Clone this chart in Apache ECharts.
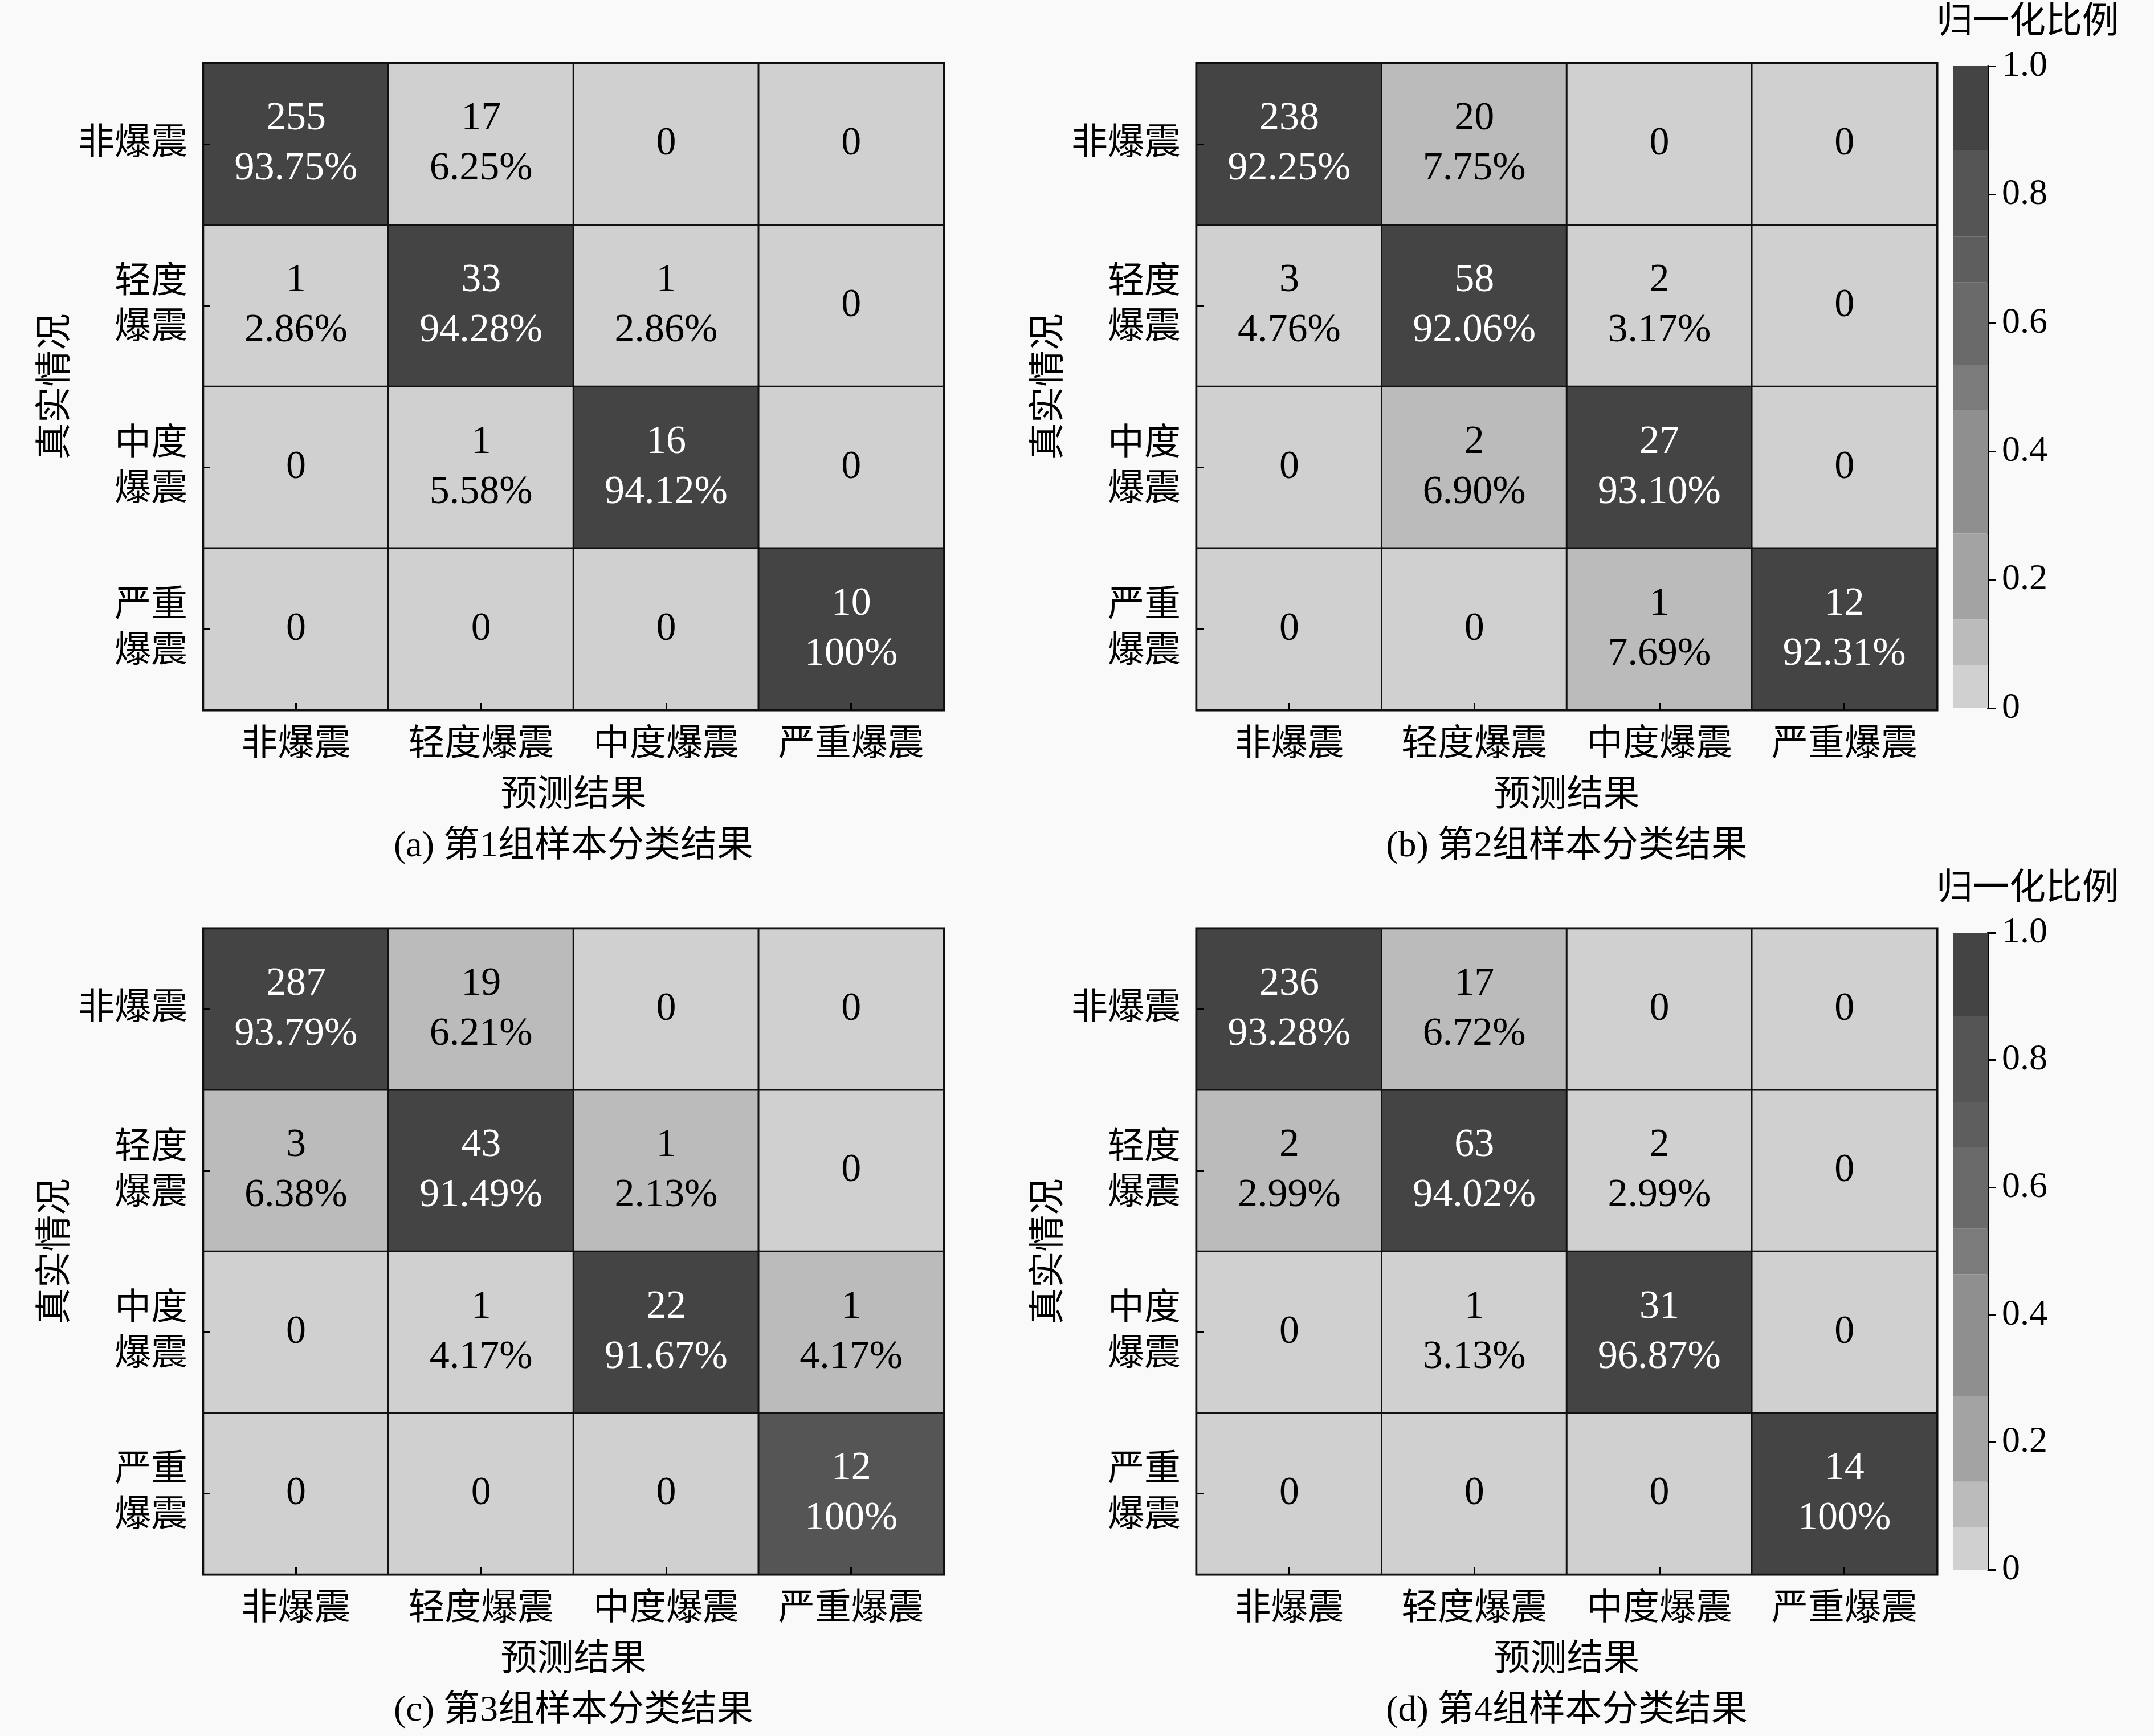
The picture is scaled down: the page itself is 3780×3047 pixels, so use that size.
<!DOCTYPE html>
<html>
<head>
<meta charset="utf-8">
<script src="https://cdn.jsdelivr.net/npm/echarts@6/dist/echarts.min.js"></script>
<style>
html,body{margin:0;padding:0;background:#f9f9f9;}
#main{width:3780px;height:3047px;}
</style>
</head>
<body>
<div id="main"></div>
<script>
// ---------- data ----------
const categories = ['非爆震', '轻度爆震', '中度爆震', '严重爆震'];
const xAxisName = '预测结果';
const yAxisName = '真实情况';
const colorbarTitle = '归一化比例';
const captions = ['(a) 第1组样本分类结果', '(b) 第2组样本分类结果', '(c) 第3组样本分类结果', '(d) 第4组样本分类结果'];

// rows = true class, columns = predicted class
const countsA = [[255, 17, 0, 0], [1, 33, 1, 0], [0, 1, 16, 0], [0, 0, 0, 10]];
const pctA = [[93.75, 6.25, 0, 0], [2.86, 94.28, 2.86, 0], [0, 5.58, 94.12, 0], [0, 0, 0, 100]];
const shadeA = [[0.95, 0.03, 0.03, 0.03], [0.03, 0.95, 0.03, 0.03], [0.03, 0.03, 0.95, 0.03], [0.03, 0.03, 0.03, 0.95]];

const countsB = [[238, 20, 0, 0], [3, 58, 2, 0], [0, 2, 27, 0], [0, 0, 1, 12]];
const pctB = [[92.25, 7.75, 0, 0], [4.76, 92.06, 3.17, 0], [0, 6.90, 93.10, 0], [0, 0, 7.69, 92.31]];
const shadeB = [[0.95, 0.10, 0.03, 0.03], [0.03, 0.95, 0.03, 0.03], [0.03, 0.10, 0.95, 0.03], [0.03, 0.03, 0.10, 0.95]];

const countsC = [[287, 19, 0, 0], [3, 43, 1, 0], [0, 1, 22, 1], [0, 0, 0, 12]];
const pctC = [[93.79, 6.21, 0, 0], [6.38, 91.49, 2.13, 0], [0, 4.17, 91.67, 4.17], [0, 0, 0, 100]];
const shadeC = [[0.95, 0.10, 0.03, 0.03], [0.10, 0.95, 0.10, 0.03], [0.03, 0.03, 0.95, 0.10], [0.03, 0.03, 0.03, 0.85]];

const countsD = [[236, 17, 0, 0], [2, 63, 2, 0], [0, 1, 31, 0], [0, 0, 0, 14]];
const pctD = [[93.28, 6.72, 0, 0], [2.99, 94.02, 2.99, 0], [0, 3.13, 96.87, 0], [0, 0, 0, 100]];
const shadeD = [[0.95, 0.10, 0.03, 0.03], [0.10, 0.95, 0.03, 0.03], [0.03, 0.03, 0.95, 0.03], [0.03, 0.03, 0.03, 0.95]];

// colour bar bands (normalised proportion) and their grey levels
const bandEdges = [0, 0.067, 0.138, 0.272, 0.464, 0.535, 0.663, 0.734, 0.869, 1.0];
const bandColors = ['#d0d0d0', '#bbbbbb', '#a3a3a3', '#8f8f8f', '#7b7b7b', '#6a6a6a', '#5e5e5e', '#555555', '#444444'];

// ---------- layout ----------
const FONT = "'Liberation Serif', 'Noto Sans CJK SC', serif";
const panelLayout = [
  {left: 357, top: 111, width: 1299, height: 1135},
  {left: 2100, top: 111, width: 1299, height: 1135},
  {left: 357, top: 1630, width: 1299, height: 1133},
  {left: 2100, top: 1630, width: 1299, height: 1133}
];
const colorbarLayout = [
  {left: 3428, top: 116, width: 61, height: 1127},
  {left: 3428, top: 1637, width: 61, height: 1118}
];
const panelData = [
  [countsA, pctA, shadeA], [countsB, pctB, shadeB], [countsC, pctC, shadeC], [countsD, pctD, shadeD]
];

function fmtPct(v) { return v === 100 ? '100%' : v.toFixed(2) + '%'; }

const grid = [], xAxis = [], yAxis = [], series = [], graphic = [];
const axisTick = {show: true, inside: true, alignWithLabel: true, length: 12, lineStyle: {color: '#000', width: 3}};

panelLayout.forEach((L, i) => {
  grid.push({left: L.left, top: L.top, width: L.width, height: L.height, show: true,
             borderColor: '#000', borderWidth: 5, backgroundColor: 'transparent'});
  xAxis.push({
    gridIndex: i, type: 'category', data: categories, z: 10,
    axisLine: {show: false}, axisTick: axisTick, splitLine: {show: false},
    axisLabel: {interval: 0, fontSize: 64, color: '#000', margin: 30, fontFamily: FONT},
    name: xAxisName, nameLocation: 'middle', nameGap: 119,
    nameTextStyle: {fontSize: 64, color: '#000', fontFamily: FONT}
  });
  yAxis.push({
    gridIndex: i, type: 'category', data: categories, inverse: true, z: 10,
    axisLine: {show: false}, axisTick: axisTick, splitLine: {show: false},
    axisLabel: {interval: 0, fontSize: 64, color: '#000', margin: 28, lineHeight: 80, fontFamily: FONT, align: 'right',
                formatter: v => v.length > 3 ? v.slice(0, 2) + '\n' + v.slice(2) : v},
    name: yAxisName, nameLocation: 'middle', nameGap: 226, nameRotate: 90,
    nameTextStyle: {fontSize: 64, color: '#000', fontFamily: FONT}
  });
  const [cnt, pct, shade] = panelData[i];
  const data = [];
  for (let r = 0; r < categories.length; r++) {
    for (let c = 0; c < categories.length; c++) {
      data.push({
        value: [c, r, shade[r][c], cnt[r][c], pct[r][c]],
        label: {color: shade[r][c] > 0.5 ? '#ffffff' : '#000000'}
      });
    }
  }
  series.push({
    type: 'heatmap', xAxisIndex: i, yAxisIndex: i, data: data,
    itemStyle: {borderColor: '#111', borderWidth: 3},
    emphasis: {disabled: true},
    label: {show: true, fontSize: 70, lineHeight: 88, fontFamily: FONT,
            formatter: p => p.value[3] === 0 ? '0' : p.value[3] + '\n' + fmtPct(p.value[4])}
  });
  graphic.push({type: 'text', x: L.left + L.width / 2, y: L.top + L.height + 240,
    style: {text: captions[i], fill: '#000', fontSize: 64, fontFamily: FONT, textAlign: 'center', verticalAlign: 'middle'}});
});

colorbarLayout.forEach((L, k) => {
  const gi = panelLayout.length + k;
  grid.push({left: L.left, top: L.top, width: L.width, height: L.height});
  xAxis.push({gridIndex: gi, type: 'category', data: [''], show: false, boundaryGap: true});
  yAxis.push({
    gridIndex: gi, type: 'value', position: 'right', min: 0, max: 1, interval: 0.2,
    axisLine: {show: true, lineStyle: {color: '#000', width: 4}},
    axisTick: {show: true, length: 14, lineStyle: {color: '#000', width: 3}},
    splitLine: {show: false},
    axisLabel: {fontSize: 64, color: '#000', margin: 24, fontFamily: FONT,
                formatter: v => v === 0 ? '0' : v.toFixed(1)}
  });
  for (let b = 0; b < bandColors.length; b++) {
    series.push({
      type: 'bar', xAxisIndex: gi, yAxisIndex: gi, stack: 'cb' + k,
      barWidth: '100%', data: [bandEdges[b + 1] - bandEdges[b]],
      itemStyle: {color: bandColors[b]}, silent: true
    });
  }
  graphic.push({type: 'text', x: 3558, y: L.top - 76,
    style: {text: colorbarTitle, fill: '#000', fontSize: 64, fontFamily: FONT, textAlign: 'center', verticalAlign: 'middle'}});
});

const pieces = bandColors.map((col, b) => {
  const p = {gte: bandEdges[b], color: col};
  if (b === bandColors.length - 1) p.lte = bandEdges[b + 1]; else p.lt = bandEdges[b + 1];
  return p;
});

const chart = echarts.init(document.getElementById('main'));
chart.setOption({
  backgroundColor: '#f9f9f9',
  animation: false,
  grid: grid, xAxis: xAxis, yAxis: yAxis,
  visualMap: {type: 'piecewise', show: false, dimension: 2, seriesIndex: [0, 1, 2, 3], pieces: pieces},
  series: series,
  graphic: graphic
});
</script>
</body>
</html>
